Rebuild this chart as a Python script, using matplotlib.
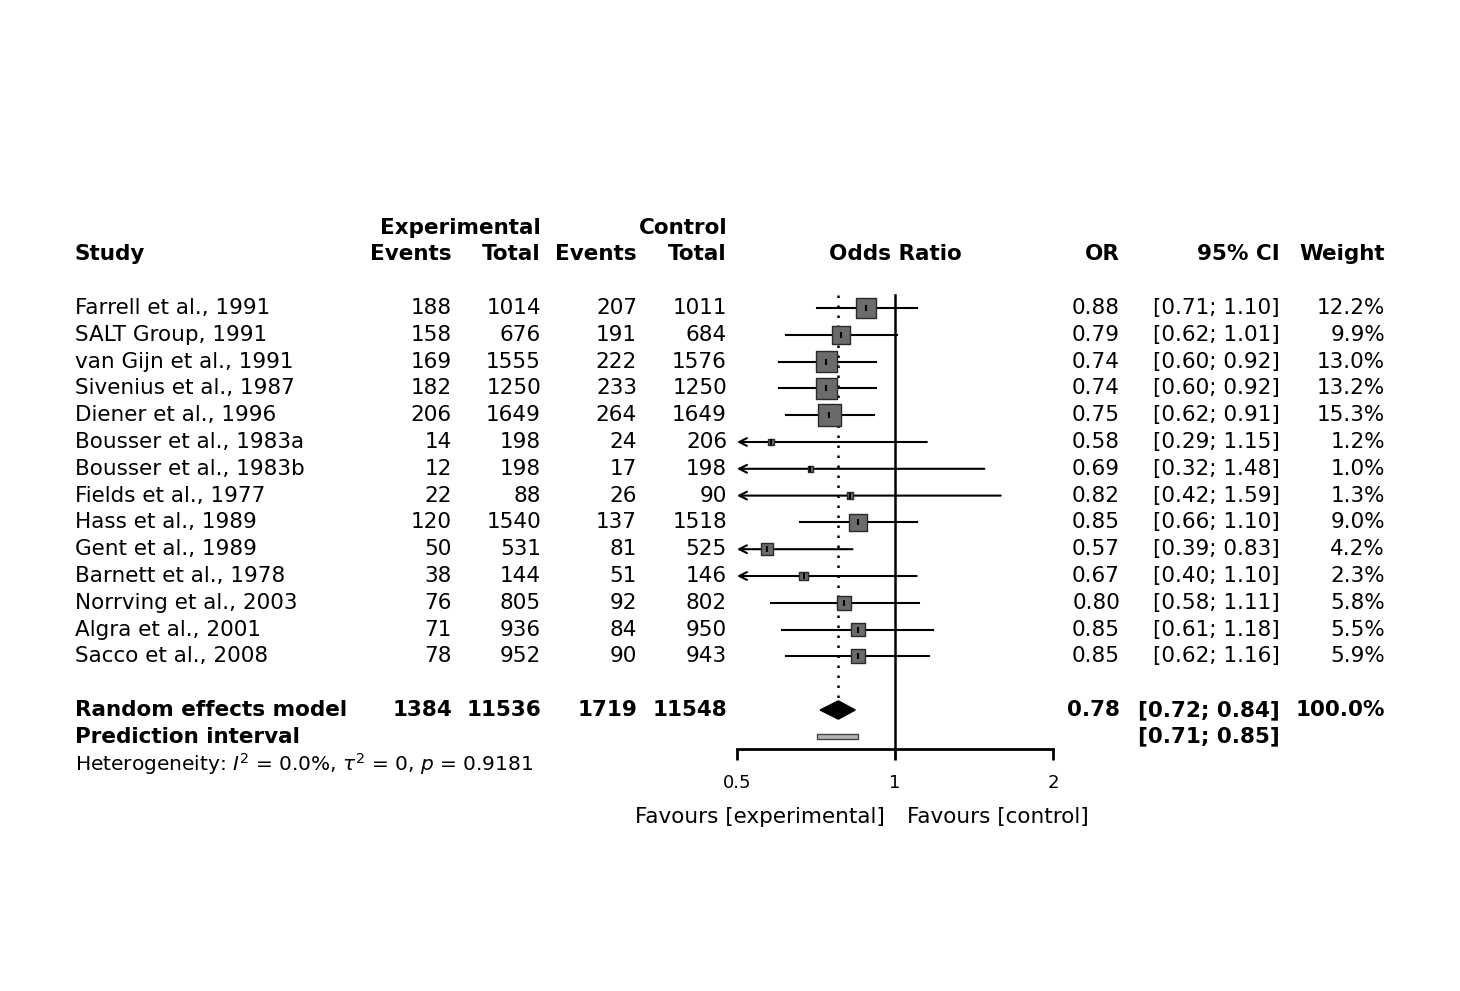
import numpy as np
import matplotlib
matplotlib.use("Agg")
import matplotlib.pyplot as plt
from matplotlib.transforms import blended_transform_factory

studies = ["Farrell et al., 1991", "SALT Group, 1991", "van Gijn et al., 1991",
           "Sivenius et al., 1987", "Diener et al., 1996", "Bousser et al., 1983a",
           "Bousser et al., 1983b", "Fields et al., 1977", "Hass et al., 1989",
           "Gent et al., 1989", "Barnett et al., 1978", "Norrving et al., 2003",
           "Algra et al., 2001", "Sacco et al., 2008"]
exp_events = [188, 158, 169, 182, 206, 14, 12, 22, 120, 50, 38, 76, 71, 78]
exp_total = [1014, 676, 1555, 1250, 1649, 198, 198, 88, 1540, 531, 144, 805, 936, 952]
ctl_events = [207, 191, 222, 233, 264, 24, 17, 26, 137, 81, 51, 92, 84, 90]
ctl_total = [1011, 684, 1576, 1250, 1649, 206, 198, 90, 1518, 525, 146, 802, 950, 943]
or_est = [0.88, 0.79, 0.74, 0.74, 0.75, 0.58, 0.69, 0.82, 0.85, 0.57, 0.67, 0.80, 0.85, 0.85]
ci_lo = [0.71, 0.62, 0.60, 0.60, 0.62, 0.29, 0.32, 0.42, 0.66, 0.39, 0.40, 0.58, 0.61, 0.62]
ci_hi = [1.10, 1.01, 0.92, 0.92, 0.91, 1.15, 1.48, 1.59, 1.10, 0.83, 1.10, 1.11, 1.18, 1.16]
weights = [12.2, 9.9, 13.0, 13.2, 15.3, 1.2, 1.0, 1.3, 9.0, 4.2, 2.3, 5.8, 5.5, 5.9]

pooled_label = "Random effects model"
pooled_exp_events, pooled_exp_total = 1384, 11536
pooled_ctl_events, pooled_ctl_total = 1719, 11548
pooled_or, pooled_lo, pooled_hi = 0.78, 0.72, 0.84
pred_lo, pred_hi = 0.71, 0.85
hetero_text = r"Heterogeneity: $\mathit{I}^2$ = 0.0%, $\tau^2$ = 0, $\mathit{p}$ = 0.9181"
xticks = [0.5, 1, 2]
xtick_labels = ["0.5", "1", "2"]

W, H = 1460, 991
fig = plt.figure(figsize=(W / 100, H / 100), dpi=100)

row0_px, row_h = 308.0, 26.8
ytop, ybot = -4.0, 20.0
ax_left_px, ax_right_px = 737.0, 1053.0
top_px = row0_px + ytop * row_h
bot_px = row0_px + ybot * row_h
ax = fig.add_axes([ax_left_px / W, 1 - bot_px / H,
                   (ax_right_px - ax_left_px) / W, (bot_px - top_px) / H])
ax.set_xscale("log", base=2)
ax.set_xlim(0.5, 2)
ax.set_ylim(ybot, ytop)
ax.patch.set_visible(False)
for s in ["top", "left", "right"]:
    ax.spines[s].set_visible(False)
axis_row = 16.46
ax.spines["bottom"].set_position(("data", axis_row))
ax.spines["bottom"].set_linewidth(2)
ax.spines["bottom"].set_capstyle("projecting")
ax.set_xticks(xticks)
ax.set_xticklabels(xtick_labels)
ax.xaxis.set_minor_locator(matplotlib.ticker.NullLocator())
ax.tick_params(axis="x", direction="out", length=8, width=2, pad=10, labelsize=13)
ax.set_yticks([])

rows = np.arange(len(studies))
pooled_row = len(studies) + 1
pred_row = pooled_row + 1
het_row = pred_row + 1
xmin = 0.5

# reference line and pooled dotted line
ax.plot([1, 1], [-0.5, axis_row], color="black", lw=1.8, zorder=1)
ax.plot([pooled_or, pooled_or], [-0.5, pooled_row - 0.35], color="black", lw=1.8,
        ls=(0, (1, 3)), zorder=1)

# CI lines / arrows
for r, lo, hi in zip(rows, ci_lo, ci_hi):
    if lo < xmin:
        ax.annotate("", xy=(xmin, r), xytext=(hi, r),
                    arrowprops=dict(arrowstyle="->,head_length=0.55,head_width=0.28",
                                    lw=1.5, color="black", shrinkA=0, shrinkB=0),
                    zorder=2)
    else:
        ax.plot([lo, hi], [r, r], color="black", lw=1.5, zorder=2)

# squares sized by weight
size_px = 5.7 * np.sqrt(np.array(weights))
size_pt = size_px * 72 / 100
ax.scatter(or_est, rows, marker="s", s=size_pt ** 2, color="#6b6b6b",
           edgecolor="#2a2a2a", linewidths=1.0, zorder=3)
ax.scatter(or_est, rows, marker="|", s=22, color="black", linewidths=1.5, zorder=4)

# diamond
ax.fill([pooled_lo, pooled_or, pooled_hi, pooled_or],
        [pooled_row, pooled_row - 0.34, pooled_row, pooled_row + 0.34],
        color="black", zorder=3)
# prediction interval
ax.fill([pred_lo, pred_hi, pred_hi, pred_lo],
        [pred_row - 0.1, pred_row - 0.1, pred_row + 0.1, pred_row + 0.1],
        facecolor="#b5b5b5", edgecolor="#444444", lw=1.0, zorder=3)

# text columns
tr = blended_transform_factory(fig.transFigure, ax.transData)
fs = 15.5

def fx(px):
    return px / W

def put(px, row, s, ha="right", bold=False, size=fs):
    ax.text(fx(px), row, s, transform=tr, ha=ha, va="center", fontsize=size,
            fontweight="bold" if bold else "normal", clip_on=False)

# headers
put(541, -3, "Experimental", bold=True)
put(727, -3, "Control", bold=True)
put(75, -2, "Study", ha="left", bold=True)
put(452, -2, "Events", bold=True)
put(541, -2, "Total", bold=True)
put(637, -2, "Events", bold=True)
put(727, -2, "Total", bold=True)
put(895, -2, "Odds Ratio", ha="center", bold=True)
put(1120, -2, "OR", bold=True)
put(1280, -2, "95% CI", bold=True)
put(1385, -2, "Weight", bold=True)

for r in rows:
    put(75, r, studies[r], ha="left")
    put(452, r, str(exp_events[r]))
    put(541, r, str(exp_total[r]))
    put(637, r, str(ctl_events[r]))
    put(727, r, str(ctl_total[r]))
    put(1120, r, f"{or_est[r]:.2f}")
    put(1280, r, f"[{ci_lo[r]:.2f}; {ci_hi[r]:.2f}]")
    put(1385, r, f"{weights[r]:.1f}%")

put(75, pooled_row, pooled_label, ha="left", bold=True)
put(452, pooled_row, str(pooled_exp_events), bold=True)
put(541, pooled_row, str(pooled_exp_total), bold=True)
put(637, pooled_row, str(pooled_ctl_events), bold=True)
put(727, pooled_row, str(pooled_ctl_total), bold=True)
put(1120, pooled_row, f"{pooled_or:.2f}", bold=True)
put(1280, pooled_row, f"[{pooled_lo:.2f}; {pooled_hi:.2f}]", bold=True)
put(1385, pooled_row, "100.0%", bold=True)
put(75, pred_row, "Prediction interval", ha="left", bold=True)
put(1280, pred_row, f"[{pred_lo:.2f}; {pred_hi:.2f}]", bold=True)
put(75, het_row, hetero_text, ha="left", size=14.5)

fav_row = (817 - row0_px) / row_h
put(885, fav_row, "Favours [experimental]", ha="right", size=15.5)
put(907, fav_row, "Favours [control]", ha="left", size=15.5)

fig.savefig("out.png", dpi=100)
